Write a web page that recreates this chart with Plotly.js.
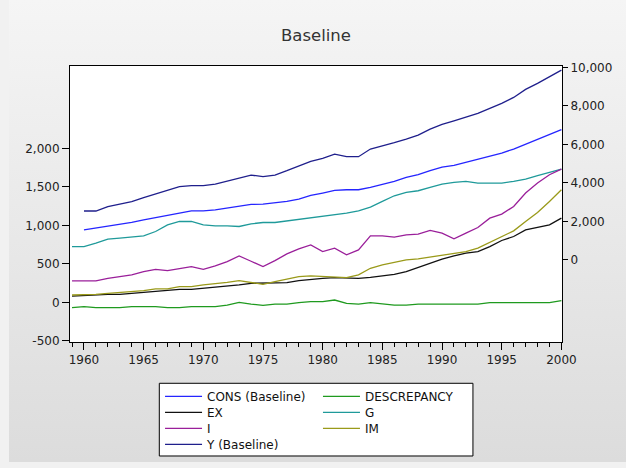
<!DOCTYPE html>
<html><head><meta charset="utf-8">
<script src="https://cdn.plot.ly/plotly-3.0.1.min.js"></script>
<style>
html,body{margin:0;padding:0;background:#f1f1f1;overflow:hidden;}
#bg{position:absolute;left:9px;top:0;width:617px;height:462px;background:linear-gradient(#f5f5f5,#dcdcdc);}
#chart{position:absolute;left:0;top:0;width:626px;height:468px;}
</style></head><body>
<div id="bg"></div><div id="chart"></div>
<script>
const years = [1959,1960,1961,1962,1963,1964,1965,1966,1967,1968,1969,1970,1971,1972,1973,1974,1975,1976,1977,1978,1979,
  1980,1981,1982,1983,1984,1985,1986,1987,1988,1989,1990,1991,1992,1993,1994,1995,1996,1997,1998,1999,2000];

const cons = [null,941,963,985,1006,1037,1071,1098,1124,1158,1189,1189,1202,1223,1245,1271,1275,1288,1310,1340,1388,
  1419,1453,1462,1462,1492,1527,1570,1622,1657,1709,1757,1779,1818,1852,1896,1939,1991,2056,2121,2186,2243];
const descrepancy = [-69,-56,-69,-69,-69,-56,-56,-56,-69,-69,-56,-56,-56,-35,0,-22,-39,-22,-22,-4,9,
  9,30,-13,-22,-4,-22,-35,-35,-22,-22,-22,-22,-22,-22,-4,-4,-4,-4,-4,-4,22];
const ex = [82,91,104,104,104,117,126,147,152,169,169,182,191,204,226,247,247,247,256,282,299,
  312,321,312,312,325,343,364,399,455,508,560,603,638,659,724,803,855,941,972,1006,1093];
const g = [724,724,768,820,833,846,863,920,1006,1050,1050,1006,993,993,985,1019,1037,1037,1058,1080,1093,
  1115,1137,1158,1189,1236,1310,1384,1427,1449,1492,1536,1557,1570,1549,1549,1549,1570,1601,1644,1687,1731];
const inv = [278,278,278,312,334,356,399,429,412,442,464,429,473,529,603,534,464,542,629,694,746,
  659,703,616,681,863,863,846,876,885,933,898,824,898,972,1093,1145,1245,1419,1549,1657,1731];
const im = [95,95,104,117,126,139,152,174,174,204,204,226,239,260,282,260,234,269,299,334,343,
  334,321,321,356,442,486,516,551,564,586,616,629,659,703,781,855,928,1050,1167,1310,1462];
const yBase = [null,2543,2543,2768,2906,3028,3235,3425,3598,3806,3858,3858,3944,4100,4290,4411,4325,4411,4636,4896,5121,
  5277,5501,5363,5363,5761,5917,6090,6280,6488,6799,7041,7231,7439,7612,7872,8131,8442,8858,9169,9515,9861];

const leftTicks = [-500,0,500,1000,1500,2000];
const leftLabels = ['-500','0','500','1,000','1,500','2,000'];
const rightTicks = [0,2000,4000,6000,8000,10000];
const rightLabels = ['0','2,000','4,000','6,000','8,000','10,000'];

const W = 1.3;
function tr(y, name, color, legend, yaxis){
  return {x: years, y: y, name: name, type:'scatter', mode:'lines',
    line:{color: color, width: W}, legend: legend, yaxis: yaxis || 'y', hoverinfo:'skip'};
}
const data = [
  tr(cons, 'CONS (Baseline)', '#2525ff', 'legend'),
  tr(descrepancy, 'DESCREPANCY', '#1f9a1f', 'legend2'),
  tr(ex, 'EX', '#111111', 'legend3'),
  tr(g, 'G', '#1f9a9a', 'legend4'),
  tr(inv, 'I', '#9a1f9a', 'legend5'),
  tr(im, 'IM', '#9a9a1a', 'legend6'),
  tr(yBase, 'Y (Baseline)', '#1f1f8c', 'legend7', 'y2')
];

const fontFam = 'DejaVu Sans, Verdana, sans-serif';
// legend grid: two columns, four rows (paper coordinates)
const colX = [0.183, 0.504];
const rowY = [-0.1442, -0.2022, -0.2601, -0.3181];
function leg(col, row){
  return {x: colX[col], y: rowY[row], xanchor:'left', yanchor:'top', bgcolor:'rgba(0,0,0,0)', borderwidth:0,
    font:{family:fontFam, size:12, color:'#111'}, itemwidth:37, tracegroupgap:0, orientation:'v'};
}

const layout = {
  width:626, height:468,
  paper_bgcolor:'rgba(0,0,0,0)', plot_bgcolor:'#ffffff',
  margin:{l:70, r:64, t:66, b:126, pad:0, autoexpand:false},
  font:{family:fontFam, size:12, color:'#222'},
  title:{text:'Baseline', font:{family:fontFam, size:16.5, color:'#333'}, x:0.5, xref:'paper', xanchor:'center',
    y:0.925, yref:'container', yanchor:'middle'},
  showlegend:true,
  xaxis:{range:[1958.83, 2000.05], tickmode:'linear', tick0:1960, dtick:5, ticks:'outside', ticklen:7, tickwidth:1,
    tickcolor:'#000', showline:true, linecolor:'#000', linewidth:1, mirror:true, showgrid:false, zeroline:false,
    automargin:false, tickfont:{size:12, color:'#222'},
    minor:{tick0:1959, dtick:1, ticks:'outside', ticklen:4, tickcolor:'#000', tickwidth:1, showgrid:false}},
  yaxis:{range:[-515, 3069], tickmode:'array', tickvals:leftTicks, ticktext:leftLabels, ticks:'outside', ticklen:7,
    tickcolor:'#000', showline:true, linecolor:'#000', linewidth:1, mirror:true, showgrid:false, zeroline:false,
    automargin:false, tickfont:{size:12, color:'#222'}},
  yaxis2:{overlaying:'y', side:'right', range:[-4260, 10075], tickmode:'array', tickvals:rightTicks, ticktext:rightLabels,
    ticks:'outside', ticklen:5, tickcolor:'#000', showline:false, showgrid:false, zeroline:false, automargin:false,
    tickfont:{size:12, color:'#222'}},
  legend:leg(0,0), legend2:leg(1,0), legend3:leg(0,1), legend4:leg(1,1),
  legend5:leg(0,2), legend6:leg(1,2), legend7:leg(0,3),
  shapes:[{type:'rect', xref:'paper', yref:'paper', x0:0.1815, x1:0.819, y0:-0.1496, y1:-0.413,
    line:{color:'#000', width:1}, fillcolor:'#ffffff', layer:'below'}]
};

Plotly.newPlot('chart', data, layout, {displayModeBar:false, staticPlot:true});
</script>
</body></html>
